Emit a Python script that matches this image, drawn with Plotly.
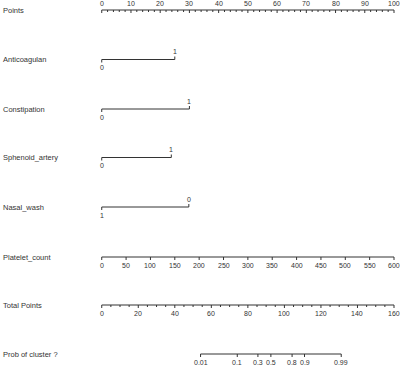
import plotly.graph_objects as go

# ---- data ----
point_ticks = [0, 10, 20, 30, 40, 50, 60, 70, 80, 90, 100]
var_names = ["Anticoagulan", "Constipation", "Sphenoid_artery", "Nasal_wash"]
var_levels = [["0", "1"], ["0", "1"], ["0", "1"], ["1", "0"]]
var_points = [[0, 25.0], [0, 30.0], [0, 23.8], [0, 29.8]]
platelet_ticks = [0, 50, 100, 150, 200, 250, 300, 350, 400, 450, 500, 550, 600]
platelet_max = 600          # platelet value giving 100 points
total_ticks = [0, 20, 40, 60, 80, 100, 120, 140, 160]
total_max = 160             # total points spanning the points axis
prob_labels = ["0.01", "0.1", "0.3", "0.5", "0.8", "0.9", "0.99"]
prob_total_points = [54.1, 74.2, 85.5, 92.6, 104.2, 111.0, 131.1]

row_names = ["Points"] + var_names + ["Platelet_count", "Total Points", "Prob of cluster ?"]
row_y = [10, 59.5, 109, 157.5, 207, 257, 305, 354]

LINE = "#333333"
TXT = "#333333"
FONT = "Liberation Sans, Arial, sans-serif"

fig = go.Figure()
ann = []


def add_line(x0, x1, y):
    fig.add_trace(go.Scatter(x=[x0, x1], y=[y, y], mode="lines",
                             line=dict(color=LINE, width=1), hoverinfo="skip", showlegend=False))


def add_ticks(xs, y, length):
    tx, ty = [], []
    for x in xs:
        tx += [x, x, None]
        ty += [y, y + length, None]
    fig.add_trace(go.Scatter(x=tx, y=ty, mode="lines",
                             line=dict(color=LINE, width=1), hoverinfo="skip", showlegend=False))


def add_labels(xs, labels, y, size=7):
    for x, t in zip(xs, labels):
        ann.append(dict(x=x, y=y, text=t, showarrow=False, xref="x", yref="y",
                        font=dict(size=size, color=TXT, family=FONT), xanchor="center", yanchor="middle"))


# Points axis
y = row_y[0]
add_line(0, 100, y)
add_ticks(point_ticks, y, 3)
add_ticks([p for p in range(0, 101, 2) if p % 10], y, 2)
add_labels(point_ticks, [str(p) for p in point_ticks], y - 7)

# binary variables
for i, (lv, pts) in enumerate(zip(var_levels, var_points)):
    y = row_y[i + 1]
    add_line(pts[0], pts[1], y)
    add_ticks([pts[0]], y, 3)
    add_ticks([pts[1]], y, -3)
    add_labels([pts[0]], [lv[0]], y + 8)
    add_labels([pts[1]], [lv[1]], y - 8)

# Platelet count
y = row_y[5]
pl_pts = [v * 100 / platelet_max for v in platelet_ticks]
add_line(0, 100, y)
add_ticks(pl_pts, y, 3)
add_labels(pl_pts, [str(v) for v in platelet_ticks], y + 8)

# Total points
y = row_y[6]
tp_pts = [v * 100 / total_max for v in total_ticks]
add_line(0, 100, y)
add_ticks(tp_pts, y, 3)
add_ticks([v * 100 / total_max for v in range(0, 161, 5) if v % 20], y, 2)
add_labels(tp_pts, [str(v) for v in total_ticks], y + 8)

# Probability
y = row_y[7]
pr_pts = [v * 100 / total_max for v in prob_total_points]
add_line(pr_pts[0], pr_pts[-1], y)
add_ticks(pr_pts, y, 3)
add_labels(pr_pts, prob_labels, y + 8)

# row names
for name, yy in zip(row_names, row_y):
    ann.append(dict(x=0.003, y=yy, text=name, showarrow=False, xref="paper", yref="y",
                    font=dict(size=7.5, color=TXT, family=FONT), xanchor="left", yanchor="middle"))

fig.update_layout(
    width=400, height=365,
    margin=dict(l=0, r=0, t=0, b=0),
    paper_bgcolor="white", plot_bgcolor="white",
    xaxis=dict(range=[-34.81, 102.05], visible=False, fixedrange=True),
    yaxis=dict(range=[365, 0], visible=False, fixedrange=True),
    annotations=ann,
    showlegend=False,
)
fig.write_html("out.html", config={"displayModeBar": False},
               post_script="document.body.style.margin='0px';document.body.style.overflow='hidden';")
